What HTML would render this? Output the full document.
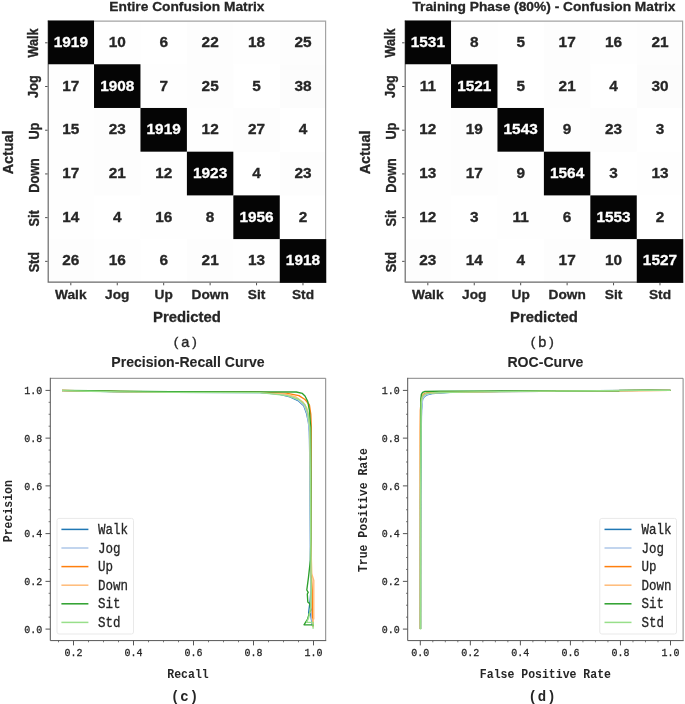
<!DOCTYPE html>
<html><head><meta charset="utf-8"><title>Figure</title>
<style>
html,body{margin:0;padding:0;background:#fff;}
body{width:685px;height:704px;overflow:hidden;}
svg{display:block;}
.sb{font-family:"Liberation Sans",sans-serif;font-weight:bold;fill:#262626;}
.sr{font-family:"Liberation Sans",sans-serif;fill:#262626;}
.mo{font-family:"Liberation Mono",monospace;fill:#262626;}
.mb{font-family:"Liberation Mono",monospace;font-weight:bold;fill:#262626;}
</style></head><body>
<svg width="685" height="704" viewBox="0 0 685 704">
<rect x="0" y="0" width="685" height="704" fill="#ffffff"/>
<g opacity="0.999">
<rect x="94.03" y="20.55" width="46.48" height="43.76" fill="rgb(254,254,254)"/>
<rect x="186.90" y="20.55" width="46.48" height="43.76" fill="rgb(253,253,253)"/>
<rect x="233.33" y="20.55" width="46.48" height="43.76" fill="rgb(254,254,254)"/>
<rect x="279.77" y="20.55" width="46.48" height="43.76" fill="rgb(253,253,253)"/>
<rect x="47.60" y="64.26" width="46.48" height="43.76" fill="rgb(254,254,254)"/>
<rect x="140.47" y="64.26" width="46.48" height="43.76" fill="rgb(254,254,254)"/>
<rect x="186.90" y="64.26" width="46.48" height="43.76" fill="rgb(253,253,253)"/>
<rect x="279.77" y="64.26" width="46.48" height="43.76" fill="rgb(252,252,252)"/>
<rect x="47.60" y="107.97" width="46.48" height="43.76" fill="rgb(254,254,254)"/>
<rect x="94.03" y="107.97" width="46.48" height="43.76" fill="rgb(253,253,253)"/>
<rect x="186.90" y="107.97" width="46.48" height="43.76" fill="rgb(254,254,254)"/>
<rect x="233.33" y="107.97" width="46.48" height="43.76" fill="rgb(253,253,253)"/>
<rect x="47.60" y="151.68" width="46.48" height="43.76" fill="rgb(254,254,254)"/>
<rect x="94.03" y="151.68" width="46.48" height="43.76" fill="rgb(253,253,253)"/>
<rect x="140.47" y="151.68" width="46.48" height="43.76" fill="rgb(254,254,254)"/>
<rect x="279.77" y="151.68" width="46.48" height="43.76" fill="rgb(253,253,253)"/>
<rect x="47.60" y="195.38" width="46.48" height="43.76" fill="rgb(254,254,254)"/>
<rect x="140.47" y="195.38" width="46.48" height="43.76" fill="rgb(254,254,254)"/>
<rect x="186.90" y="195.38" width="46.48" height="43.76" fill="rgb(254,254,254)"/>
<rect x="47.60" y="239.09" width="46.48" height="43.76" fill="rgb(253,253,253)"/>
<rect x="94.03" y="239.09" width="46.48" height="43.76" fill="rgb(254,254,254)"/>
<rect x="186.90" y="239.09" width="46.48" height="43.76" fill="rgb(253,253,253)"/>
<rect x="233.33" y="239.09" width="46.48" height="43.76" fill="rgb(254,254,254)"/>
<path d="M47.60,21.15 H325.60 V282.80" fill="none" stroke="#a3a3a3" stroke-width="1.2"/>
<path d="M48.20,20.55 V282.20 H326.20" fill="none" stroke="#6a6a6a" stroke-width="1.2"/>
<rect x="48.10" y="20.55" width="45.93" height="43.71" fill="#050505"/>
<rect x="94.03" y="64.26" width="46.43" height="43.71" fill="#050505"/>
<rect x="140.47" y="107.97" width="46.43" height="43.71" fill="#050505"/>
<rect x="186.90" y="151.68" width="46.43" height="43.71" fill="#050505"/>
<rect x="233.33" y="195.38" width="46.43" height="43.71" fill="#050505"/>
<rect x="279.77" y="239.09" width="46.43" height="43.71" fill="#050505"/>
<text class="sb" font-size="15.4" text-anchor="middle" transform="translate(70.82,46.90) scale(1,0.970)" style="fill:#ffffff;stroke:#ffffff;stroke-width:0.3">1919</text>
<text class="sb" font-size="15.4" text-anchor="middle" transform="translate(117.25,46.90) scale(1,0.970)" style="fill:#262626;stroke:#262626;stroke-width:0.3">10</text>
<text class="sb" font-size="15.4" text-anchor="middle" transform="translate(163.68,46.90) scale(1,0.970)" style="fill:#262626;stroke:#262626;stroke-width:0.3">6</text>
<text class="sb" font-size="15.4" text-anchor="middle" transform="translate(210.12,46.90) scale(1,0.970)" style="fill:#262626;stroke:#262626;stroke-width:0.3">22</text>
<text class="sb" font-size="15.4" text-anchor="middle" transform="translate(256.55,46.90) scale(1,0.970)" style="fill:#262626;stroke:#262626;stroke-width:0.3">18</text>
<text class="sb" font-size="15.4" text-anchor="middle" transform="translate(302.98,46.90) scale(1,0.970)" style="fill:#262626;stroke:#262626;stroke-width:0.3">25</text>
<text class="sb" font-size="15.4" text-anchor="middle" transform="translate(70.82,90.61) scale(1,0.970)" style="fill:#262626;stroke:#262626;stroke-width:0.3">17</text>
<text class="sb" font-size="15.4" text-anchor="middle" transform="translate(117.25,90.61) scale(1,0.970)" style="fill:#ffffff;stroke:#ffffff;stroke-width:0.3">1908</text>
<text class="sb" font-size="15.4" text-anchor="middle" transform="translate(163.68,90.61) scale(1,0.970)" style="fill:#262626;stroke:#262626;stroke-width:0.3">7</text>
<text class="sb" font-size="15.4" text-anchor="middle" transform="translate(210.12,90.61) scale(1,0.970)" style="fill:#262626;stroke:#262626;stroke-width:0.3">25</text>
<text class="sb" font-size="15.4" text-anchor="middle" transform="translate(256.55,90.61) scale(1,0.970)" style="fill:#262626;stroke:#262626;stroke-width:0.3">5</text>
<text class="sb" font-size="15.4" text-anchor="middle" transform="translate(302.98,90.61) scale(1,0.970)" style="fill:#262626;stroke:#262626;stroke-width:0.3">38</text>
<text class="sb" font-size="15.4" text-anchor="middle" transform="translate(70.82,134.32) scale(1,0.970)" style="fill:#262626;stroke:#262626;stroke-width:0.3">15</text>
<text class="sb" font-size="15.4" text-anchor="middle" transform="translate(117.25,134.32) scale(1,0.970)" style="fill:#262626;stroke:#262626;stroke-width:0.3">23</text>
<text class="sb" font-size="15.4" text-anchor="middle" transform="translate(163.68,134.32) scale(1,0.970)" style="fill:#ffffff;stroke:#ffffff;stroke-width:0.3">1919</text>
<text class="sb" font-size="15.4" text-anchor="middle" transform="translate(210.12,134.32) scale(1,0.970)" style="fill:#262626;stroke:#262626;stroke-width:0.3">12</text>
<text class="sb" font-size="15.4" text-anchor="middle" transform="translate(256.55,134.32) scale(1,0.970)" style="fill:#262626;stroke:#262626;stroke-width:0.3">27</text>
<text class="sb" font-size="15.4" text-anchor="middle" transform="translate(302.98,134.32) scale(1,0.970)" style="fill:#262626;stroke:#262626;stroke-width:0.3">4</text>
<text class="sb" font-size="15.4" text-anchor="middle" transform="translate(70.82,178.03) scale(1,0.970)" style="fill:#262626;stroke:#262626;stroke-width:0.3">17</text>
<text class="sb" font-size="15.4" text-anchor="middle" transform="translate(117.25,178.03) scale(1,0.970)" style="fill:#262626;stroke:#262626;stroke-width:0.3">21</text>
<text class="sb" font-size="15.4" text-anchor="middle" transform="translate(163.68,178.03) scale(1,0.970)" style="fill:#262626;stroke:#262626;stroke-width:0.3">12</text>
<text class="sb" font-size="15.4" text-anchor="middle" transform="translate(210.12,178.03) scale(1,0.970)" style="fill:#ffffff;stroke:#ffffff;stroke-width:0.3">1923</text>
<text class="sb" font-size="15.4" text-anchor="middle" transform="translate(256.55,178.03) scale(1,0.970)" style="fill:#262626;stroke:#262626;stroke-width:0.3">4</text>
<text class="sb" font-size="15.4" text-anchor="middle" transform="translate(302.98,178.03) scale(1,0.970)" style="fill:#262626;stroke:#262626;stroke-width:0.3">23</text>
<text class="sb" font-size="15.4" text-anchor="middle" transform="translate(70.82,221.74) scale(1,0.970)" style="fill:#262626;stroke:#262626;stroke-width:0.3">14</text>
<text class="sb" font-size="15.4" text-anchor="middle" transform="translate(117.25,221.74) scale(1,0.970)" style="fill:#262626;stroke:#262626;stroke-width:0.3">4</text>
<text class="sb" font-size="15.4" text-anchor="middle" transform="translate(163.68,221.74) scale(1,0.970)" style="fill:#262626;stroke:#262626;stroke-width:0.3">16</text>
<text class="sb" font-size="15.4" text-anchor="middle" transform="translate(210.12,221.74) scale(1,0.970)" style="fill:#262626;stroke:#262626;stroke-width:0.3">8</text>
<text class="sb" font-size="15.4" text-anchor="middle" transform="translate(256.55,221.74) scale(1,0.970)" style="fill:#ffffff;stroke:#ffffff;stroke-width:0.3">1956</text>
<text class="sb" font-size="15.4" text-anchor="middle" transform="translate(302.98,221.74) scale(1,0.970)" style="fill:#262626;stroke:#262626;stroke-width:0.3">2</text>
<text class="sb" font-size="15.4" text-anchor="middle" transform="translate(70.82,265.45) scale(1,0.970)" style="fill:#262626;stroke:#262626;stroke-width:0.3">26</text>
<text class="sb" font-size="15.4" text-anchor="middle" transform="translate(117.25,265.45) scale(1,0.970)" style="fill:#262626;stroke:#262626;stroke-width:0.3">16</text>
<text class="sb" font-size="15.4" text-anchor="middle" transform="translate(163.68,265.45) scale(1,0.970)" style="fill:#262626;stroke:#262626;stroke-width:0.3">6</text>
<text class="sb" font-size="15.4" text-anchor="middle" transform="translate(210.12,265.45) scale(1,0.970)" style="fill:#262626;stroke:#262626;stroke-width:0.3">21</text>
<text class="sb" font-size="15.4" text-anchor="middle" transform="translate(256.55,265.45) scale(1,0.970)" style="fill:#262626;stroke:#262626;stroke-width:0.3">13</text>
<text class="sb" font-size="15.4" text-anchor="middle" transform="translate(302.98,265.45) scale(1,0.970)" style="fill:#ffffff;stroke:#ffffff;stroke-width:0.3">1918</text>
<line x1="70.82" y1="282.80" x2="70.82" y2="285.30" stroke="#4f4f4f" stroke-width="1"/>
<text class="sb" font-size="13.7" text-anchor="middle" transform="translate(70.82,298.60) scale(1,0.890)" style="stroke:#262626;stroke-width:0.3">Walk</text>
<line x1="45.10" y1="42.80" x2="47.60" y2="42.80" stroke="#4f4f4f" stroke-width="1"/>
<text class="sb" font-size="12.7" text-anchor="middle" transform="translate(37.80,42.90) rotate(-90) scale(1,1.180)" style="stroke:#262626;stroke-width:0.3">Walk</text>
<line x1="117.25" y1="282.80" x2="117.25" y2="285.30" stroke="#4f4f4f" stroke-width="1"/>
<text class="sb" font-size="13.7" text-anchor="middle" transform="translate(117.25,298.60) scale(1,0.890)" style="stroke:#262626;stroke-width:0.3">Jog</text>
<line x1="45.10" y1="86.51" x2="47.60" y2="86.51" stroke="#4f4f4f" stroke-width="1"/>
<text class="sb" font-size="12.7" text-anchor="middle" transform="translate(37.80,86.61) rotate(-90) scale(1,1.180)" style="stroke:#262626;stroke-width:0.3">Jog</text>
<line x1="163.68" y1="282.80" x2="163.68" y2="285.30" stroke="#4f4f4f" stroke-width="1"/>
<text class="sb" font-size="13.7" text-anchor="middle" transform="translate(163.68,298.60) scale(1,0.890)" style="stroke:#262626;stroke-width:0.3">Up</text>
<line x1="45.10" y1="130.22" x2="47.60" y2="130.22" stroke="#4f4f4f" stroke-width="1"/>
<text class="sb" font-size="12.7" text-anchor="middle" transform="translate(38.70,131.12) rotate(-90) scale(1,1.180)" style="stroke:#262626;stroke-width:0.3">Up</text>
<line x1="210.12" y1="282.80" x2="210.12" y2="285.30" stroke="#4f4f4f" stroke-width="1"/>
<text class="sb" font-size="13.7" text-anchor="middle" transform="translate(210.12,298.60) scale(1,0.890)" style="stroke:#262626;stroke-width:0.3">Down</text>
<line x1="45.10" y1="173.93" x2="47.60" y2="173.93" stroke="#4f4f4f" stroke-width="1"/>
<text class="sb" font-size="12.7" text-anchor="middle" transform="translate(38.70,175.43) rotate(-90) scale(1,1.180)" style="stroke:#262626;stroke-width:0.3">Down</text>
<line x1="256.55" y1="282.80" x2="256.55" y2="285.30" stroke="#4f4f4f" stroke-width="1"/>
<text class="sb" font-size="13.7" text-anchor="middle" transform="translate(256.55,298.60) scale(1,0.890)" style="stroke:#262626;stroke-width:0.3">Sit</text>
<line x1="45.10" y1="217.64" x2="47.60" y2="217.64" stroke="#4f4f4f" stroke-width="1"/>
<text class="sb" font-size="12.7" text-anchor="middle" transform="translate(38.50,218.44) rotate(-90) scale(1,1.180)" style="stroke:#262626;stroke-width:0.3">Sit</text>
<line x1="302.98" y1="282.80" x2="302.98" y2="285.30" stroke="#4f4f4f" stroke-width="1"/>
<text class="sb" font-size="13.7" text-anchor="middle" transform="translate(302.98,298.60) scale(1,0.890)" style="stroke:#262626;stroke-width:0.3">Std</text>
<line x1="45.10" y1="261.35" x2="47.60" y2="261.35" stroke="#4f4f4f" stroke-width="1"/>
<text class="sb" font-size="12.7" text-anchor="middle" transform="translate(38.50,262.15) rotate(-90) scale(1,1.180)" style="stroke:#262626;stroke-width:0.3">Std</text>
<text class="sb" font-size="14.9" text-anchor="middle" transform="translate(186.90,321.70) scale(1,0.970)" style="stroke:#262626;stroke-width:0.3">Predicted</text>
<text class="sb" font-size="14.4" text-anchor="middle" transform="translate(13.30,152.38) rotate(-90)" style="stroke:#262626;stroke-width:0.3">Actual</text>
<text class="sb" font-size="13.76" text-anchor="middle" transform="translate(186.90,11.00) scale(1,0.920)" style="stroke:#262626;stroke-width:0.3">Entire Confusion Matrix</text>
<text class="sr" font-size="14.5" text-anchor="middle" transform="translate(186.70,346.60)" style="letter-spacing:3.0px;stroke:#262626;stroke-width:0.35"><tspan dy="-1.1" font-size="13.6">(</tspan><tspan dy="1.1">a</tspan><tspan dy="-1.1" font-size="13.6">)</tspan></text>
<rect x="451.03" y="20.55" width="46.48" height="43.76" fill="rgb(254,254,254)"/>
<rect x="543.90" y="20.55" width="46.48" height="43.76" fill="rgb(253,253,253)"/>
<rect x="590.33" y="20.55" width="46.48" height="43.76" fill="rgb(254,254,254)"/>
<rect x="636.77" y="20.55" width="46.48" height="43.76" fill="rgb(253,253,253)"/>
<rect x="404.60" y="64.26" width="46.48" height="43.76" fill="rgb(254,254,254)"/>
<rect x="543.90" y="64.26" width="46.48" height="43.76" fill="rgb(253,253,253)"/>
<rect x="636.77" y="64.26" width="46.48" height="43.76" fill="rgb(252,252,252)"/>
<rect x="404.60" y="107.97" width="46.48" height="43.76" fill="rgb(254,254,254)"/>
<rect x="451.03" y="107.97" width="46.48" height="43.76" fill="rgb(253,253,253)"/>
<rect x="543.90" y="107.97" width="46.48" height="43.76" fill="rgb(254,254,254)"/>
<rect x="590.33" y="107.97" width="46.48" height="43.76" fill="rgb(253,253,253)"/>
<rect x="404.60" y="151.68" width="46.48" height="43.76" fill="rgb(254,254,254)"/>
<rect x="451.03" y="151.68" width="46.48" height="43.76" fill="rgb(253,253,253)"/>
<rect x="497.47" y="151.68" width="46.48" height="43.76" fill="rgb(254,254,254)"/>
<rect x="636.77" y="151.68" width="46.48" height="43.76" fill="rgb(254,254,254)"/>
<rect x="404.60" y="195.38" width="46.48" height="43.76" fill="rgb(254,254,254)"/>
<rect x="497.47" y="195.38" width="46.48" height="43.76" fill="rgb(254,254,254)"/>
<rect x="543.90" y="195.38" width="46.48" height="43.76" fill="rgb(254,254,254)"/>
<rect x="404.60" y="239.09" width="46.48" height="43.76" fill="rgb(253,253,253)"/>
<rect x="451.03" y="239.09" width="46.48" height="43.76" fill="rgb(254,254,254)"/>
<rect x="543.90" y="239.09" width="46.48" height="43.76" fill="rgb(253,253,253)"/>
<rect x="590.33" y="239.09" width="46.48" height="43.76" fill="rgb(254,254,254)"/>
<path d="M404.60,21.15 H682.60 V282.80" fill="none" stroke="#a3a3a3" stroke-width="1.2"/>
<path d="M405.20,20.55 V282.20 H683.20" fill="none" stroke="#6a6a6a" stroke-width="1.2"/>
<rect x="405.10" y="20.55" width="45.93" height="43.71" fill="#050505"/>
<rect x="451.03" y="64.26" width="46.43" height="43.71" fill="#050505"/>
<rect x="497.47" y="107.97" width="46.43" height="43.71" fill="#050505"/>
<rect x="543.90" y="151.68" width="46.43" height="43.71" fill="#050505"/>
<rect x="590.33" y="195.38" width="46.43" height="43.71" fill="#050505"/>
<rect x="636.77" y="239.09" width="46.43" height="43.71" fill="#050505"/>
<text class="sb" font-size="15.4" text-anchor="middle" transform="translate(427.82,46.90) scale(1,0.970)" style="fill:#ffffff;stroke:#ffffff;stroke-width:0.3">1531</text>
<text class="sb" font-size="15.4" text-anchor="middle" transform="translate(474.25,46.90) scale(1,0.970)" style="fill:#262626;stroke:#262626;stroke-width:0.3">8</text>
<text class="sb" font-size="15.4" text-anchor="middle" transform="translate(520.68,46.90) scale(1,0.970)" style="fill:#262626;stroke:#262626;stroke-width:0.3">5</text>
<text class="sb" font-size="15.4" text-anchor="middle" transform="translate(567.12,46.90) scale(1,0.970)" style="fill:#262626;stroke:#262626;stroke-width:0.3">17</text>
<text class="sb" font-size="15.4" text-anchor="middle" transform="translate(613.55,46.90) scale(1,0.970)" style="fill:#262626;stroke:#262626;stroke-width:0.3">16</text>
<text class="sb" font-size="15.4" text-anchor="middle" transform="translate(659.98,46.90) scale(1,0.970)" style="fill:#262626;stroke:#262626;stroke-width:0.3">21</text>
<text class="sb" font-size="15.4" text-anchor="middle" transform="translate(427.82,90.61) scale(1,0.970)" style="fill:#262626;stroke:#262626;stroke-width:0.3">11</text>
<text class="sb" font-size="15.4" text-anchor="middle" transform="translate(474.25,90.61) scale(1,0.970)" style="fill:#ffffff;stroke:#ffffff;stroke-width:0.3">1521</text>
<text class="sb" font-size="15.4" text-anchor="middle" transform="translate(520.68,90.61) scale(1,0.970)" style="fill:#262626;stroke:#262626;stroke-width:0.3">5</text>
<text class="sb" font-size="15.4" text-anchor="middle" transform="translate(567.12,90.61) scale(1,0.970)" style="fill:#262626;stroke:#262626;stroke-width:0.3">21</text>
<text class="sb" font-size="15.4" text-anchor="middle" transform="translate(613.55,90.61) scale(1,0.970)" style="fill:#262626;stroke:#262626;stroke-width:0.3">4</text>
<text class="sb" font-size="15.4" text-anchor="middle" transform="translate(659.98,90.61) scale(1,0.970)" style="fill:#262626;stroke:#262626;stroke-width:0.3">30</text>
<text class="sb" font-size="15.4" text-anchor="middle" transform="translate(427.82,134.32) scale(1,0.970)" style="fill:#262626;stroke:#262626;stroke-width:0.3">12</text>
<text class="sb" font-size="15.4" text-anchor="middle" transform="translate(474.25,134.32) scale(1,0.970)" style="fill:#262626;stroke:#262626;stroke-width:0.3">19</text>
<text class="sb" font-size="15.4" text-anchor="middle" transform="translate(520.68,134.32) scale(1,0.970)" style="fill:#ffffff;stroke:#ffffff;stroke-width:0.3">1543</text>
<text class="sb" font-size="15.4" text-anchor="middle" transform="translate(567.12,134.32) scale(1,0.970)" style="fill:#262626;stroke:#262626;stroke-width:0.3">9</text>
<text class="sb" font-size="15.4" text-anchor="middle" transform="translate(613.55,134.32) scale(1,0.970)" style="fill:#262626;stroke:#262626;stroke-width:0.3">23</text>
<text class="sb" font-size="15.4" text-anchor="middle" transform="translate(659.98,134.32) scale(1,0.970)" style="fill:#262626;stroke:#262626;stroke-width:0.3">3</text>
<text class="sb" font-size="15.4" text-anchor="middle" transform="translate(427.82,178.03) scale(1,0.970)" style="fill:#262626;stroke:#262626;stroke-width:0.3">13</text>
<text class="sb" font-size="15.4" text-anchor="middle" transform="translate(474.25,178.03) scale(1,0.970)" style="fill:#262626;stroke:#262626;stroke-width:0.3">17</text>
<text class="sb" font-size="15.4" text-anchor="middle" transform="translate(520.68,178.03) scale(1,0.970)" style="fill:#262626;stroke:#262626;stroke-width:0.3">9</text>
<text class="sb" font-size="15.4" text-anchor="middle" transform="translate(567.12,178.03) scale(1,0.970)" style="fill:#ffffff;stroke:#ffffff;stroke-width:0.3">1564</text>
<text class="sb" font-size="15.4" text-anchor="middle" transform="translate(613.55,178.03) scale(1,0.970)" style="fill:#262626;stroke:#262626;stroke-width:0.3">3</text>
<text class="sb" font-size="15.4" text-anchor="middle" transform="translate(659.98,178.03) scale(1,0.970)" style="fill:#262626;stroke:#262626;stroke-width:0.3">13</text>
<text class="sb" font-size="15.4" text-anchor="middle" transform="translate(427.82,221.74) scale(1,0.970)" style="fill:#262626;stroke:#262626;stroke-width:0.3">12</text>
<text class="sb" font-size="15.4" text-anchor="middle" transform="translate(474.25,221.74) scale(1,0.970)" style="fill:#262626;stroke:#262626;stroke-width:0.3">3</text>
<text class="sb" font-size="15.4" text-anchor="middle" transform="translate(520.68,221.74) scale(1,0.970)" style="fill:#262626;stroke:#262626;stroke-width:0.3">11</text>
<text class="sb" font-size="15.4" text-anchor="middle" transform="translate(567.12,221.74) scale(1,0.970)" style="fill:#262626;stroke:#262626;stroke-width:0.3">6</text>
<text class="sb" font-size="15.4" text-anchor="middle" transform="translate(613.55,221.74) scale(1,0.970)" style="fill:#ffffff;stroke:#ffffff;stroke-width:0.3">1553</text>
<text class="sb" font-size="15.4" text-anchor="middle" transform="translate(659.98,221.74) scale(1,0.970)" style="fill:#262626;stroke:#262626;stroke-width:0.3">2</text>
<text class="sb" font-size="15.4" text-anchor="middle" transform="translate(427.82,265.45) scale(1,0.970)" style="fill:#262626;stroke:#262626;stroke-width:0.3">23</text>
<text class="sb" font-size="15.4" text-anchor="middle" transform="translate(474.25,265.45) scale(1,0.970)" style="fill:#262626;stroke:#262626;stroke-width:0.3">14</text>
<text class="sb" font-size="15.4" text-anchor="middle" transform="translate(520.68,265.45) scale(1,0.970)" style="fill:#262626;stroke:#262626;stroke-width:0.3">4</text>
<text class="sb" font-size="15.4" text-anchor="middle" transform="translate(567.12,265.45) scale(1,0.970)" style="fill:#262626;stroke:#262626;stroke-width:0.3">17</text>
<text class="sb" font-size="15.4" text-anchor="middle" transform="translate(613.55,265.45) scale(1,0.970)" style="fill:#262626;stroke:#262626;stroke-width:0.3">10</text>
<text class="sb" font-size="15.4" text-anchor="middle" transform="translate(659.98,265.45) scale(1,0.970)" style="fill:#ffffff;stroke:#ffffff;stroke-width:0.3">1527</text>
<line x1="427.82" y1="282.80" x2="427.82" y2="285.30" stroke="#4f4f4f" stroke-width="1"/>
<text class="sb" font-size="13.7" text-anchor="middle" transform="translate(427.82,298.60) scale(1,0.890)" style="stroke:#262626;stroke-width:0.3">Walk</text>
<line x1="402.10" y1="42.80" x2="404.60" y2="42.80" stroke="#4f4f4f" stroke-width="1"/>
<text class="sb" font-size="12.7" text-anchor="middle" transform="translate(394.80,42.90) rotate(-90) scale(1,1.180)" style="stroke:#262626;stroke-width:0.3">Walk</text>
<line x1="474.25" y1="282.80" x2="474.25" y2="285.30" stroke="#4f4f4f" stroke-width="1"/>
<text class="sb" font-size="13.7" text-anchor="middle" transform="translate(474.25,298.60) scale(1,0.890)" style="stroke:#262626;stroke-width:0.3">Jog</text>
<line x1="402.10" y1="86.51" x2="404.60" y2="86.51" stroke="#4f4f4f" stroke-width="1"/>
<text class="sb" font-size="12.7" text-anchor="middle" transform="translate(394.80,86.61) rotate(-90) scale(1,1.180)" style="stroke:#262626;stroke-width:0.3">Jog</text>
<line x1="520.68" y1="282.80" x2="520.68" y2="285.30" stroke="#4f4f4f" stroke-width="1"/>
<text class="sb" font-size="13.7" text-anchor="middle" transform="translate(520.68,298.60) scale(1,0.890)" style="stroke:#262626;stroke-width:0.3">Up</text>
<line x1="402.10" y1="130.22" x2="404.60" y2="130.22" stroke="#4f4f4f" stroke-width="1"/>
<text class="sb" font-size="12.7" text-anchor="middle" transform="translate(395.70,131.12) rotate(-90) scale(1,1.180)" style="stroke:#262626;stroke-width:0.3">Up</text>
<line x1="567.12" y1="282.80" x2="567.12" y2="285.30" stroke="#4f4f4f" stroke-width="1"/>
<text class="sb" font-size="13.7" text-anchor="middle" transform="translate(567.12,298.60) scale(1,0.890)" style="stroke:#262626;stroke-width:0.3">Down</text>
<line x1="402.10" y1="173.93" x2="404.60" y2="173.93" stroke="#4f4f4f" stroke-width="1"/>
<text class="sb" font-size="12.7" text-anchor="middle" transform="translate(395.70,175.43) rotate(-90) scale(1,1.180)" style="stroke:#262626;stroke-width:0.3">Down</text>
<line x1="613.55" y1="282.80" x2="613.55" y2="285.30" stroke="#4f4f4f" stroke-width="1"/>
<text class="sb" font-size="13.7" text-anchor="middle" transform="translate(613.55,298.60) scale(1,0.890)" style="stroke:#262626;stroke-width:0.3">Sit</text>
<line x1="402.10" y1="217.64" x2="404.60" y2="217.64" stroke="#4f4f4f" stroke-width="1"/>
<text class="sb" font-size="12.7" text-anchor="middle" transform="translate(395.50,218.44) rotate(-90) scale(1,1.180)" style="stroke:#262626;stroke-width:0.3">Sit</text>
<line x1="659.98" y1="282.80" x2="659.98" y2="285.30" stroke="#4f4f4f" stroke-width="1"/>
<text class="sb" font-size="13.7" text-anchor="middle" transform="translate(659.98,298.60) scale(1,0.890)" style="stroke:#262626;stroke-width:0.3">Std</text>
<line x1="402.10" y1="261.35" x2="404.60" y2="261.35" stroke="#4f4f4f" stroke-width="1"/>
<text class="sb" font-size="12.7" text-anchor="middle" transform="translate(395.50,262.15) rotate(-90) scale(1,1.180)" style="stroke:#262626;stroke-width:0.3">Std</text>
<text class="sb" font-size="14.9" text-anchor="middle" transform="translate(543.90,321.70) scale(1,0.970)" style="stroke:#262626;stroke-width:0.3">Predicted</text>
<text class="sb" font-size="14.4" text-anchor="middle" transform="translate(370.30,152.38) rotate(-90)" style="stroke:#262626;stroke-width:0.3">Actual</text>
<text class="sb" font-size="13.76" text-anchor="middle" transform="translate(543.90,11.00) scale(1,0.920)" style="stroke:#262626;stroke-width:0.3">Training Phase (80%) - Confusion Matrix</text>
<text class="sr" font-size="14.5" text-anchor="middle" transform="translate(543.70,346.60)" style="letter-spacing:3.0px;stroke:#262626;stroke-width:0.35"><tspan dy="-1.1" font-size="13.6">(</tspan><tspan dy="1.1">b</tspan><tspan dy="-1.1" font-size="13.6">)</tspan></text>
<g fill="none" stroke-width="1.35" stroke-linejoin="round" stroke-linecap="butt">
<path d="M62.00,390.59 L90.00,391.18 L120.00,391.80 L170.00,392.30 L260.00,392.50 L278.80,394.00 L290.00,396.80 L298.00,400.60 L303.80,405.70 L306.60,413.60 L308.40,422.00 L309.40,432.00 L309.90,470.00 L310.30,520.00 L310.60,570.00 L310.90,590.00 L310.20,600.00 L308.60,613.00 L310.50,613.40 L311.80,622.00 L312.60,626.00" stroke="#1f77b4"/>
<path d="M62.00,390.56 L90.00,391.12 L120.00,391.70 L170.00,392.20 L260.00,392.40 L278.00,393.60 L290.00,396.30 L298.00,400.00 L304.00,405.20 L306.90,413.00 L308.70,424.00 L309.70,440.00 L310.10,500.00 L310.50,560.00 L311.00,600.00 L311.60,618.00 L312.80,626.50" stroke="#aec7e8"/>
<path d="M62.00,390.50 L90.00,391.00 L120.00,391.50 L170.00,392.00 L260.00,392.20 L287.50,393.40 L298.90,395.60 L305.00,399.50 L309.40,404.80 L310.80,414.40 L311.20,425.80 L311.10,440.00 L310.90,470.00 L310.90,540.00 L311.30,572.00 L312.20,590.00 L312.40,612.00 L312.60,619.00 L313.00,624.00 L313.00,627.00" stroke="#ff7f0e"/>
<path d="M62.00,390.53 L90.00,391.06 L120.00,391.60 L170.00,392.10 L260.00,392.30 L285.00,394.00 L296.00,397.00 L303.00,402.00 L306.80,408.00 L308.70,416.00 L310.00,428.00 L310.50,470.00 L310.80,540.00 L311.80,574.00 L313.80,580.50 L313.80,619.00 L312.80,619.00 L312.90,627.00" stroke="#ffbb78"/>
<path d="M62.00,390.39 L90.00,390.79 L120.00,391.15 L170.00,391.65 L260.00,391.85 L296.30,392.00 L302.40,393.40 L305.00,396.00 L307.70,401.30 L309.40,410.00 L310.70,427.60 L310.90,480.00 L310.80,540.00 L310.40,560.00 L308.40,578.00 L306.80,590.00 L308.20,592.40 L307.30,594.00 L307.80,602.00 L309.80,603.80 L310.70,610.00 L309.40,613.00 L307.60,619.00 L304.00,624.80 L313.30,624.80 L313.30,626.00" stroke="#2ca02c"/>
<path d="M62.00,390.63 L90.00,391.27 L120.00,391.95 L170.00,392.45 L260.00,392.65 L287.50,395.60 L298.90,399.50 L305.00,404.80 L307.70,412.70 L309.90,427.60 L310.40,480.00 L310.70,540.00 L311.20,590.00 L310.80,606.00 L309.90,612.00 L308.60,618.00 L306.60,622.40 L313.10,622.40 L313.10,628.80" stroke="#98df8a"/>
</g>
<path d="M50.30,378.30 H325.70 V640.60" fill="none" stroke="#858585" stroke-width="1"/>
<path d="M50.30,378.30 V640.60 H325.70" fill="none" stroke="#555555" stroke-width="1" stroke-linecap="square"/>
<line x1="45.50" y1="629.10" x2="50.30" y2="629.10" stroke="#555555" stroke-width="1"/>
<text class="mo" font-size="10" text-anchor="end" transform="translate(42.30,632.85) scale(1,1.140)" style="stroke:#262626;stroke-width:0.25">0.0</text>
<line x1="45.50" y1="581.36" x2="50.30" y2="581.36" stroke="#555555" stroke-width="1"/>
<text class="mo" font-size="10" text-anchor="end" transform="translate(42.30,585.11) scale(1,1.140)" style="stroke:#262626;stroke-width:0.25">0.2</text>
<line x1="45.50" y1="533.62" x2="50.30" y2="533.62" stroke="#555555" stroke-width="1"/>
<text class="mo" font-size="10" text-anchor="end" transform="translate(42.30,537.37) scale(1,1.140)" style="stroke:#262626;stroke-width:0.25">0.4</text>
<line x1="45.50" y1="485.88" x2="50.30" y2="485.88" stroke="#555555" stroke-width="1"/>
<text class="mo" font-size="10" text-anchor="end" transform="translate(42.30,489.63) scale(1,1.140)" style="stroke:#262626;stroke-width:0.25">0.6</text>
<line x1="45.50" y1="438.14" x2="50.30" y2="438.14" stroke="#555555" stroke-width="1"/>
<text class="mo" font-size="10" text-anchor="end" transform="translate(42.30,441.89) scale(1,1.140)" style="stroke:#262626;stroke-width:0.25">0.8</text>
<line x1="45.50" y1="390.40" x2="50.30" y2="390.40" stroke="#555555" stroke-width="1"/>
<text class="mo" font-size="10" text-anchor="end" transform="translate(42.30,394.15) scale(1,1.140)" style="stroke:#262626;stroke-width:0.25">1.0</text>
<line x1="48.60" y1="617.17" x2="50.30" y2="617.17" stroke="#555555" stroke-width="0.8"/>
<line x1="48.60" y1="605.23" x2="50.30" y2="605.23" stroke="#555555" stroke-width="0.8"/>
<line x1="48.60" y1="593.30" x2="50.30" y2="593.30" stroke="#555555" stroke-width="0.8"/>
<line x1="48.60" y1="569.43" x2="50.30" y2="569.43" stroke="#555555" stroke-width="0.8"/>
<line x1="48.60" y1="557.49" x2="50.30" y2="557.49" stroke="#555555" stroke-width="0.8"/>
<line x1="48.60" y1="545.56" x2="50.30" y2="545.56" stroke="#555555" stroke-width="0.8"/>
<line x1="48.60" y1="521.69" x2="50.30" y2="521.69" stroke="#555555" stroke-width="0.8"/>
<line x1="48.60" y1="509.75" x2="50.30" y2="509.75" stroke="#555555" stroke-width="0.8"/>
<line x1="48.60" y1="497.82" x2="50.30" y2="497.82" stroke="#555555" stroke-width="0.8"/>
<line x1="48.60" y1="473.95" x2="50.30" y2="473.95" stroke="#555555" stroke-width="0.8"/>
<line x1="48.60" y1="462.01" x2="50.30" y2="462.01" stroke="#555555" stroke-width="0.8"/>
<line x1="48.60" y1="450.08" x2="50.30" y2="450.08" stroke="#555555" stroke-width="0.8"/>
<line x1="48.60" y1="426.21" x2="50.30" y2="426.21" stroke="#555555" stroke-width="0.8"/>
<line x1="48.60" y1="414.27" x2="50.30" y2="414.27" stroke="#555555" stroke-width="0.8"/>
<line x1="48.60" y1="402.34" x2="50.30" y2="402.34" stroke="#555555" stroke-width="0.8"/>
<line x1="73.50" y1="640.60" x2="73.50" y2="645.40" stroke="#555555" stroke-width="1"/>
<text class="mo" font-size="10" text-anchor="middle" transform="translate(73.50,656.10) scale(1,1.140)" style="stroke:#262626;stroke-width:0.25">0.2</text>
<line x1="133.50" y1="640.60" x2="133.50" y2="645.40" stroke="#555555" stroke-width="1"/>
<text class="mo" font-size="10" text-anchor="middle" transform="translate(133.50,656.10) scale(1,1.140)" style="stroke:#262626;stroke-width:0.25">0.4</text>
<line x1="193.50" y1="640.60" x2="193.50" y2="645.40" stroke="#555555" stroke-width="1"/>
<text class="mo" font-size="10" text-anchor="middle" transform="translate(193.50,656.10) scale(1,1.140)" style="stroke:#262626;stroke-width:0.25">0.6</text>
<line x1="253.50" y1="640.60" x2="253.50" y2="645.40" stroke="#555555" stroke-width="1"/>
<text class="mo" font-size="10" text-anchor="middle" transform="translate(253.50,656.10) scale(1,1.140)" style="stroke:#262626;stroke-width:0.25">0.8</text>
<line x1="313.50" y1="640.60" x2="313.50" y2="645.40" stroke="#555555" stroke-width="1"/>
<text class="mo" font-size="10" text-anchor="middle" transform="translate(313.50,656.10) scale(1,1.140)" style="stroke:#262626;stroke-width:0.25">1.0</text>
<line x1="58.50" y1="640.60" x2="58.50" y2="642.30" stroke="#555555" stroke-width="0.8"/>
<line x1="88.50" y1="640.60" x2="88.50" y2="642.30" stroke="#555555" stroke-width="0.8"/>
<line x1="103.50" y1="640.60" x2="103.50" y2="642.30" stroke="#555555" stroke-width="0.8"/>
<line x1="118.50" y1="640.60" x2="118.50" y2="642.30" stroke="#555555" stroke-width="0.8"/>
<line x1="148.50" y1="640.60" x2="148.50" y2="642.30" stroke="#555555" stroke-width="0.8"/>
<line x1="163.50" y1="640.60" x2="163.50" y2="642.30" stroke="#555555" stroke-width="0.8"/>
<line x1="178.50" y1="640.60" x2="178.50" y2="642.30" stroke="#555555" stroke-width="0.8"/>
<line x1="208.50" y1="640.60" x2="208.50" y2="642.30" stroke="#555555" stroke-width="0.8"/>
<line x1="223.50" y1="640.60" x2="223.50" y2="642.30" stroke="#555555" stroke-width="0.8"/>
<line x1="238.50" y1="640.60" x2="238.50" y2="642.30" stroke="#555555" stroke-width="0.8"/>
<line x1="268.50" y1="640.60" x2="268.50" y2="642.30" stroke="#555555" stroke-width="0.8"/>
<line x1="283.50" y1="640.60" x2="283.50" y2="642.30" stroke="#555555" stroke-width="0.8"/>
<line x1="298.50" y1="640.60" x2="298.50" y2="642.30" stroke="#555555" stroke-width="0.8"/>
<text class="mb" font-size="11.5" text-anchor="middle" transform="translate(188.00,678.00) scale(1,1.140)">Recall</text>
<text class="mb" font-size="11.5" text-anchor="middle" transform="translate(11.70,511.15) rotate(-90) scale(1,1.050)">Precision</text>
<text class="sb" font-size="14.1" text-anchor="middle" transform="translate(188.00,367.00) scale(1,1.050)" style="stroke:#262626;stroke-width:0.1">Precision-Recall Curve</text>
<text class="mb" font-size="14" text-anchor="middle" transform="translate(185.00,701.30) scale(1,1.090)" style="letter-spacing:1px">(c)</text>
<rect x="57.00" y="518.40" width="76.50" height="115.60" rx="2" ry="2" fill="#ffffff" fill-opacity="0.8" stroke="#e9e9e9" stroke-width="1"/>
<line x1="61.40" y1="529.40" x2="88.40" y2="529.40" stroke="#1f77b4" stroke-width="1.5"/>
<text class="mo" font-size="12.5" text-anchor="start" transform="translate(98.00,534.00) scale(1,1.140)" style="stroke:#262626;stroke-width:0.25">Walk</text>
<line x1="61.40" y1="548.00" x2="88.40" y2="548.00" stroke="#aec7e8" stroke-width="1.5"/>
<text class="mo" font-size="12.5" text-anchor="start" transform="translate(98.00,552.60) scale(1,1.140)" style="stroke:#262626;stroke-width:0.25">Jog</text>
<line x1="61.40" y1="566.60" x2="88.40" y2="566.60" stroke="#ff7f0e" stroke-width="1.5"/>
<text class="mo" font-size="12.5" text-anchor="start" transform="translate(98.00,571.20) scale(1,1.140)" style="stroke:#262626;stroke-width:0.25">Up</text>
<line x1="61.40" y1="585.20" x2="88.40" y2="585.20" stroke="#ffbb78" stroke-width="1.5"/>
<text class="mo" font-size="12.5" text-anchor="start" transform="translate(98.00,589.80) scale(1,1.140)" style="stroke:#262626;stroke-width:0.25">Down</text>
<line x1="61.40" y1="603.80" x2="88.40" y2="603.80" stroke="#2ca02c" stroke-width="1.5"/>
<text class="mo" font-size="12.5" text-anchor="start" transform="translate(98.00,608.40) scale(1,1.140)" style="stroke:#262626;stroke-width:0.25">Sit</text>
<line x1="61.40" y1="622.40" x2="88.40" y2="622.40" stroke="#98df8a" stroke-width="1.5"/>
<text class="mo" font-size="12.5" text-anchor="start" transform="translate(98.00,627.00) scale(1,1.140)" style="stroke:#262626;stroke-width:0.25">Std</text>
<g fill="none" stroke-width="1.35" stroke-linejoin="round" stroke-linecap="butt">
<path d="M420.50,628.90 L420.60,500.00 L421.00,430.00 L421.50,410.00 L422.50,399.50 L424.50,396.40 L427.00,394.90 L432.00,393.50 L450.00,392.30 L500.00,391.50 L586.00,391.10 L595.00,391.10 L596.00,390.70 L640.00,390.40 L670.50,390.30" stroke="#1f77b4"/>
<path d="M420.50,628.90 L420.60,540.00 L421.00,505.00 L420.70,500.00 L421.20,430.00 L421.70,410.00 L422.60,399.00 L424.60,396.00 L427.00,394.50 L432.00,393.20 L450.00,392.10 L500.00,391.30 L580.00,390.90 L640.00,390.40 L670.50,390.30" stroke="#aec7e8"/>
<path d="M420.40,628.90 L420.40,500.00 L420.30,440.00 L420.40,410.00 L421.20,399.00 L422.40,395.40 L424.40,393.60 L428.00,392.70 L445.00,392.00 L500.00,391.40 L580.00,391.00 L640.00,390.50 L670.50,390.30" stroke="#ff7f0e"/>
<path d="M420.40,628.90 L420.40,520.00 L420.00,460.00 L420.00,430.00 L420.60,410.00 L421.40,400.00 L422.60,396.20 L424.80,394.20 L428.00,393.20 L445.00,392.30 L500.00,391.60 L580.00,391.10 L640.00,390.50 L670.50,390.30" stroke="#ffbb78"/>
<path d="M420.50,628.90 L420.50,500.00 L420.70,420.00 L420.90,398.00 L421.40,394.30 L422.60,392.40 L425.00,391.50 L440.00,391.20 L520.00,390.90 L555.00,390.80 L556.00,391.10 L619.00,390.70 L620.00,390.30 L649.00,390.20 L670.50,390.30" stroke="#2ca02c"/>
<path d="M420.50,629.60 L420.60,500.00 L421.00,420.00 L421.30,402.00 L422.20,397.20 L424.30,394.60 L427.50,393.40 L440.00,392.50 L480.00,391.80 L540.00,391.20 L600.00,390.70 L640.00,390.40 L670.50,390.30" stroke="#98df8a"/>
</g>
<path d="M407.70,378.30 H683.10 V640.60" fill="none" stroke="#858585" stroke-width="1"/>
<path d="M407.70,378.30 V640.60 H683.10" fill="none" stroke="#555555" stroke-width="1" stroke-linecap="square"/>
<line x1="402.90" y1="629.10" x2="407.70" y2="629.10" stroke="#555555" stroke-width="1"/>
<text class="mo" font-size="10" text-anchor="end" transform="translate(399.70,632.85) scale(1,1.140)" style="stroke:#262626;stroke-width:0.25">0.0</text>
<line x1="402.90" y1="581.36" x2="407.70" y2="581.36" stroke="#555555" stroke-width="1"/>
<text class="mo" font-size="10" text-anchor="end" transform="translate(399.70,585.11) scale(1,1.140)" style="stroke:#262626;stroke-width:0.25">0.2</text>
<line x1="402.90" y1="533.62" x2="407.70" y2="533.62" stroke="#555555" stroke-width="1"/>
<text class="mo" font-size="10" text-anchor="end" transform="translate(399.70,537.37) scale(1,1.140)" style="stroke:#262626;stroke-width:0.25">0.4</text>
<line x1="402.90" y1="485.88" x2="407.70" y2="485.88" stroke="#555555" stroke-width="1"/>
<text class="mo" font-size="10" text-anchor="end" transform="translate(399.70,489.63) scale(1,1.140)" style="stroke:#262626;stroke-width:0.25">0.6</text>
<line x1="402.90" y1="438.14" x2="407.70" y2="438.14" stroke="#555555" stroke-width="1"/>
<text class="mo" font-size="10" text-anchor="end" transform="translate(399.70,441.89) scale(1,1.140)" style="stroke:#262626;stroke-width:0.25">0.8</text>
<line x1="402.90" y1="390.40" x2="407.70" y2="390.40" stroke="#555555" stroke-width="1"/>
<text class="mo" font-size="10" text-anchor="end" transform="translate(399.70,394.15) scale(1,1.140)" style="stroke:#262626;stroke-width:0.25">1.0</text>
<line x1="406.00" y1="617.17" x2="407.70" y2="617.17" stroke="#555555" stroke-width="0.8"/>
<line x1="406.00" y1="605.23" x2="407.70" y2="605.23" stroke="#555555" stroke-width="0.8"/>
<line x1="406.00" y1="593.30" x2="407.70" y2="593.30" stroke="#555555" stroke-width="0.8"/>
<line x1="406.00" y1="569.43" x2="407.70" y2="569.43" stroke="#555555" stroke-width="0.8"/>
<line x1="406.00" y1="557.49" x2="407.70" y2="557.49" stroke="#555555" stroke-width="0.8"/>
<line x1="406.00" y1="545.56" x2="407.70" y2="545.56" stroke="#555555" stroke-width="0.8"/>
<line x1="406.00" y1="521.69" x2="407.70" y2="521.69" stroke="#555555" stroke-width="0.8"/>
<line x1="406.00" y1="509.75" x2="407.70" y2="509.75" stroke="#555555" stroke-width="0.8"/>
<line x1="406.00" y1="497.82" x2="407.70" y2="497.82" stroke="#555555" stroke-width="0.8"/>
<line x1="406.00" y1="473.95" x2="407.70" y2="473.95" stroke="#555555" stroke-width="0.8"/>
<line x1="406.00" y1="462.01" x2="407.70" y2="462.01" stroke="#555555" stroke-width="0.8"/>
<line x1="406.00" y1="450.08" x2="407.70" y2="450.08" stroke="#555555" stroke-width="0.8"/>
<line x1="406.00" y1="426.21" x2="407.70" y2="426.21" stroke="#555555" stroke-width="0.8"/>
<line x1="406.00" y1="414.27" x2="407.70" y2="414.27" stroke="#555555" stroke-width="0.8"/>
<line x1="406.00" y1="402.34" x2="407.70" y2="402.34" stroke="#555555" stroke-width="0.8"/>
<line x1="420.30" y1="640.60" x2="420.30" y2="645.40" stroke="#555555" stroke-width="1"/>
<text class="mo" font-size="10" text-anchor="middle" transform="translate(420.30,656.10) scale(1,1.140)" style="stroke:#262626;stroke-width:0.25">0.0</text>
<line x1="470.34" y1="640.60" x2="470.34" y2="645.40" stroke="#555555" stroke-width="1"/>
<text class="mo" font-size="10" text-anchor="middle" transform="translate(470.34,656.10) scale(1,1.140)" style="stroke:#262626;stroke-width:0.25">0.2</text>
<line x1="520.38" y1="640.60" x2="520.38" y2="645.40" stroke="#555555" stroke-width="1"/>
<text class="mo" font-size="10" text-anchor="middle" transform="translate(520.38,656.10) scale(1,1.140)" style="stroke:#262626;stroke-width:0.25">0.4</text>
<line x1="570.42" y1="640.60" x2="570.42" y2="645.40" stroke="#555555" stroke-width="1"/>
<text class="mo" font-size="10" text-anchor="middle" transform="translate(570.42,656.10) scale(1,1.140)" style="stroke:#262626;stroke-width:0.25">0.6</text>
<line x1="620.46" y1="640.60" x2="620.46" y2="645.40" stroke="#555555" stroke-width="1"/>
<text class="mo" font-size="10" text-anchor="middle" transform="translate(620.46,656.10) scale(1,1.140)" style="stroke:#262626;stroke-width:0.25">0.8</text>
<line x1="670.50" y1="640.60" x2="670.50" y2="645.40" stroke="#555555" stroke-width="1"/>
<text class="mo" font-size="10" text-anchor="middle" transform="translate(670.50,656.10) scale(1,1.140)" style="stroke:#262626;stroke-width:0.25">1.0</text>
<line x1="432.81" y1="640.60" x2="432.81" y2="642.30" stroke="#555555" stroke-width="0.8"/>
<line x1="445.32" y1="640.60" x2="445.32" y2="642.30" stroke="#555555" stroke-width="0.8"/>
<line x1="457.83" y1="640.60" x2="457.83" y2="642.30" stroke="#555555" stroke-width="0.8"/>
<line x1="482.85" y1="640.60" x2="482.85" y2="642.30" stroke="#555555" stroke-width="0.8"/>
<line x1="495.36" y1="640.60" x2="495.36" y2="642.30" stroke="#555555" stroke-width="0.8"/>
<line x1="507.87" y1="640.60" x2="507.87" y2="642.30" stroke="#555555" stroke-width="0.8"/>
<line x1="532.89" y1="640.60" x2="532.89" y2="642.30" stroke="#555555" stroke-width="0.8"/>
<line x1="545.40" y1="640.60" x2="545.40" y2="642.30" stroke="#555555" stroke-width="0.8"/>
<line x1="557.91" y1="640.60" x2="557.91" y2="642.30" stroke="#555555" stroke-width="0.8"/>
<line x1="582.93" y1="640.60" x2="582.93" y2="642.30" stroke="#555555" stroke-width="0.8"/>
<line x1="595.44" y1="640.60" x2="595.44" y2="642.30" stroke="#555555" stroke-width="0.8"/>
<line x1="607.95" y1="640.60" x2="607.95" y2="642.30" stroke="#555555" stroke-width="0.8"/>
<line x1="632.97" y1="640.60" x2="632.97" y2="642.30" stroke="#555555" stroke-width="0.8"/>
<line x1="645.48" y1="640.60" x2="645.48" y2="642.30" stroke="#555555" stroke-width="0.8"/>
<line x1="657.99" y1="640.60" x2="657.99" y2="642.30" stroke="#555555" stroke-width="0.8"/>
<text class="mb" font-size="11.5" text-anchor="middle" transform="translate(545.40,678.00) scale(1,1.140)">False Positive Rate</text>
<text class="mb" font-size="11.5" text-anchor="middle" transform="translate(366.70,510.05) rotate(-90) scale(1,1.050)">True Positive Rate</text>
<text class="sb" font-size="14.1" text-anchor="middle" transform="translate(545.40,367.00) scale(1,1.050)" style="stroke:#262626;stroke-width:0.1">ROC-Curve</text>
<text class="mb" font-size="14" text-anchor="middle" transform="translate(542.50,701.30) scale(1,1.090)" style="letter-spacing:1px">(d)</text>
<rect x="599.80" y="518.40" width="76.70" height="115.60" rx="2" ry="2" fill="#ffffff" fill-opacity="0.8" stroke="#e9e9e9" stroke-width="1"/>
<line x1="604.50" y1="529.40" x2="631.50" y2="529.40" stroke="#1f77b4" stroke-width="1.5"/>
<text class="mo" font-size="12.5" text-anchor="start" transform="translate(641.50,534.00) scale(1,1.140)" style="stroke:#262626;stroke-width:0.25">Walk</text>
<line x1="604.50" y1="548.00" x2="631.50" y2="548.00" stroke="#aec7e8" stroke-width="1.5"/>
<text class="mo" font-size="12.5" text-anchor="start" transform="translate(641.50,552.60) scale(1,1.140)" style="stroke:#262626;stroke-width:0.25">Jog</text>
<line x1="604.50" y1="566.60" x2="631.50" y2="566.60" stroke="#ff7f0e" stroke-width="1.5"/>
<text class="mo" font-size="12.5" text-anchor="start" transform="translate(641.50,571.20) scale(1,1.140)" style="stroke:#262626;stroke-width:0.25">Up</text>
<line x1="604.50" y1="585.20" x2="631.50" y2="585.20" stroke="#ffbb78" stroke-width="1.5"/>
<text class="mo" font-size="12.5" text-anchor="start" transform="translate(641.50,589.80) scale(1,1.140)" style="stroke:#262626;stroke-width:0.25">Down</text>
<line x1="604.50" y1="603.80" x2="631.50" y2="603.80" stroke="#2ca02c" stroke-width="1.5"/>
<text class="mo" font-size="12.5" text-anchor="start" transform="translate(641.50,608.40) scale(1,1.140)" style="stroke:#262626;stroke-width:0.25">Sit</text>
<line x1="604.50" y1="622.40" x2="631.50" y2="622.40" stroke="#98df8a" stroke-width="1.5"/>
<text class="mo" font-size="12.5" text-anchor="start" transform="translate(641.50,627.00) scale(1,1.140)" style="stroke:#262626;stroke-width:0.25">Std</text>
</g>
</svg></body></html>
